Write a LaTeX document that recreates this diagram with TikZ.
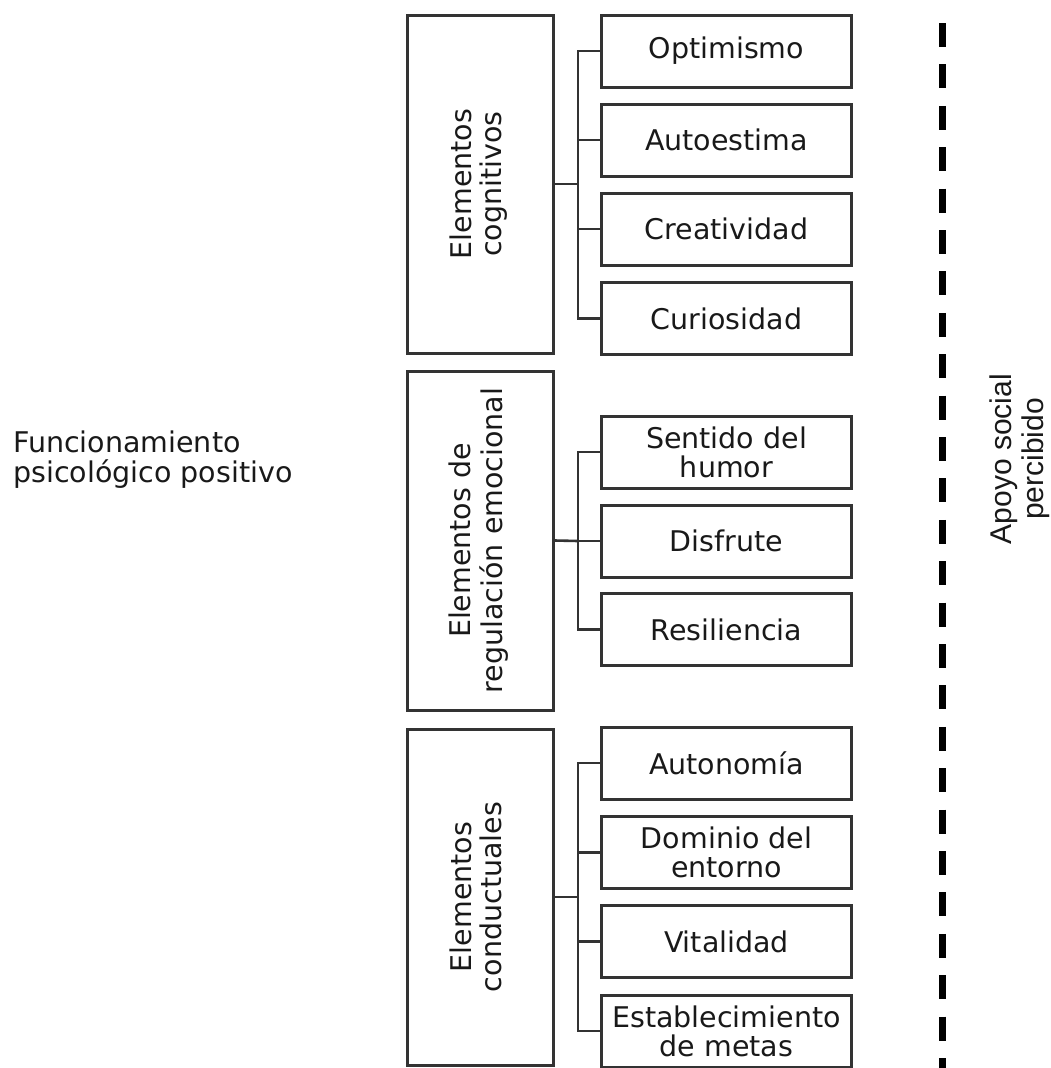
\documentclass[tikz,border=0pt]{standalone}
\usepackage{fontspec}
\setmainfont{DejaVu Sans}
\newfontfamily\apoyofont{Liberation Sans}

\begin{document}
\begin{tikzpicture}[x=1pt,y=-1pt,
		grupo/.style={draw=black!80, line width=3pt, minimum width=146pt, inner sep=0pt, text=black!90, font=\fontsize{28.5}{30}\selectfont},
		item/.style={draw=black!80, line width=3pt, minimum width=250pt, minimum height=72pt, inner sep=0pt, align=center, text=black!90, font=\fontsize{28.5}{29}\selectfont},
		rama/.style={draw=black!80, line width=2.6pt}]
		\useasboundingbox (0,0) rectangle (1051,1068);
		% title on the left
		\node[anchor=west, align=left, inner sep=0pt, text=black!90, font=\fontsize{28.5}{30}\selectfont] (func) at (13,460) {Funcionamiento\\psicológico positivo};
		% group boxes
		\node[grupo, minimum height=338pt] (cog) at (480,184) {\rotatebox{90}{\begin{tabular}{@{}c@{}}Elementos\\cognitivos\end{tabular}}};
		\node[grupo, minimum height=339pt] (emo) at (480,540.5) {\rotatebox{90}{\begin{tabular}{@{}c@{}}Elementos de\\regulación emocional\end{tabular}}};
		\node[grupo, minimum height=336pt] (con) at (480,897) {\rotatebox{90}{\begin{tabular}{@{}c@{}}Elementos\\conductuales\end{tabular}}};
		% items of each group
		\foreach \nombre/\y/\texto in {opt/51/Optimismo, aut/140/Autoestima, cre/229/Creatividad, cur/318.5/Curiosidad,
			sen/452/Sentido del\\humor, dis/541/Disfrute, res/629.5/Resiliencia,
			ato/763/Autonomía, dom/852.5/Dominio del\\entorno, vit/941.5/Vitalidad, est/1031/Establecimiento\\de metas}
		{
			\node[item] (\nombre) at (726.5,\y) {\texto};
		}
		% branches
		\coordinate (b1) at (578,184);
		\coordinate (b2) at (578,541);
		\coordinate (b3) at (578,897);
		\draw[rama] (cog.east) -- (b1);
		\draw[rama] (emo.east) -- (b2);
		\draw[rama] (con.east) -- (b3);
		\foreach \nombre in {opt,aut,cre,cur}
		{
			\draw[rama] (b1) |- (\nombre.west);
		}
		\foreach \nombre in {sen,dis,res}
		{
			\draw[rama] (b2) |- (\nombre.west);
		}
		\foreach \nombre in {ato,dom,vit,est}
		{
			\draw[rama] (b3) |- (\nombre.west);
		}
		% dashed border of social support
		\coordinate (arriba) at (942,23);
		\coordinate (abajo) at (942,1068);
		\draw[line width=7pt, dash pattern=on 24pt off 17.4pt] (arriba) -- (abajo);
		\node[rotate=90, align=center, inner sep=0pt, text=black!90, font=\apoyofont\fontsize{30}{32}\selectfont] (apoyo) at (1020,459) {Apoyo social\\percibido};
	\end{tikzpicture}
\end{document}
